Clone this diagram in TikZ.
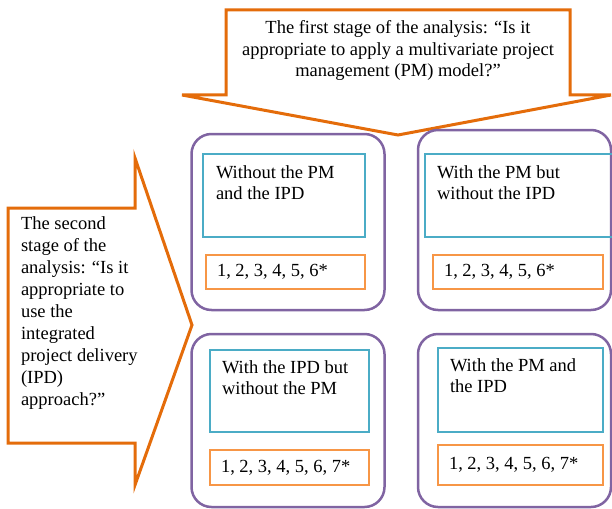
\documentclass[tikz,border=0pt]{standalone}
\usepackage{fontspec}
\setmainfont{Liberation Serif}
\usetikzlibrary{positioning}
\definecolor{stageorange}{HTML}{E46C0A}
\definecolor{grppurple}{HTML}{8064A2}
\definecolor{setcyan}{HTML}{4BACC6}
\definecolor{steporange}{HTML}{F79646}

\begin{document}
\begin{tikzpicture}
    [x=1pt, y=-1pt, outer sep=0pt,
    font=\fontsize{18.5}{21.5}\selectfont,
    stage/.style={draw=stageorange, line width=3pt, line join=miter},
    group/.style={rectangle, draw=grppurple, line width=2.5pt,
      rounded corners=20pt, minimum width=193pt, inner sep=0pt},
    setting/.style={rectangle, draw=setcyan, line width=2.5pt, inner
      sep=0pt},
    steps/.style={rectangle, draw=steporange, line width=2.5pt, inner
      xsep=11pt, inner ysep=0pt, align=left,
      execute at begin node={\spaceskip=4.6pt\relax}},
    txt/.style={inner sep=0pt, align=left}]

    \useasboundingbox (0,0) rectangle (612,508);

    % the two stages of the analysis
    \draw [stage] (226,10) -- (570,10) -- (570,95) -- (611,95) --
    (398,135) -- (182,95) -- (226,95) -- cycle;
    \node (stage1) [txt, align=center] at (398,50.5)
    {The first stage of the analysis: “Is it\\appropriate to apply a
      multivariate project\\management (PM) model?”};

    \draw [stage] (8,208) -- (135,208) -- (135,158) -- (192,325) --
    (135,485) -- (135,443) -- (8,443) -- cycle;
    \node (stage2) [txt, anchor=north west,
    font=\fontsize{18.5}{22}\selectfont] at (21,216.5)
    {The second\\stage of the\\analysis: “Is it\\appropriate to\\use
      the\\integrated\\project delivery\\(IPD)\\approach?”};

    % the four cases
    \node (groupTL) [group, minimum height=176pt] at (288,222) {};
    \node (groupTR) [group, minimum height=180pt] at (514.5,220) {};
    \node (groupBL) [group, minimum height=173pt] at (288,420.5) {};
    \node (groupBR) [group, minimum height=173pt] at (514.5,420.5) {};

    \node (caseTL) [setting, minimum width=162pt, minimum height=83pt]
    at (284,195.5) {};
    \node (caseTR) [setting, minimum width=190pt, minimum height=83pt]
    at (520,195.5) {};
    \node (caseBL) [setting, minimum width=159pt, minimum height=82pt]
    at (289.5,391) {};
    \node (caseBR) [setting, minimum width=165pt, minimum height=84pt]
    at (520.5,390) {};

    \node (caseTL_text) [txt, below right=11.5pt and 13pt of
    caseTL.north west] {Without the PM\\and the IPD};
    \node (caseTR_text) [txt, below right=11.5pt and 12pt of
    caseTR.north west] {With the PM but\\without the IPD};
    \node (caseBL_text) [txt, below right=10.5pt and 12pt of
    caseBL.north west] {With the IPD but\\without the PM};
    \node (caseBR_text) [txt, below right=10.5pt and 12pt of
    caseBR.north west] {With the PM and\\the IPD};

    \node (stepsTL) [steps, text width=137pt, minimum height=34pt]
    at (285.5,272) {1, 2, 3, 4, 5, 6*};
    \node (stepsTR) [steps, text width=148pt, minimum height=34pt]
    at (518,272) {1, 2, 3, 4, 5, 6*};
    \node (stepsBL) [steps, text width=137pt, minimum height=35pt]
    at (289.5,467.5) {1, 2, 3, 4, 5, 6, 7*};
    \node (stepsBR) [steps, text width=143pt, minimum height=40pt]
    at (520.5,465) {1, 2, 3, 4, 5, 6, 7*};
  \end{tikzpicture}
\end{document}
